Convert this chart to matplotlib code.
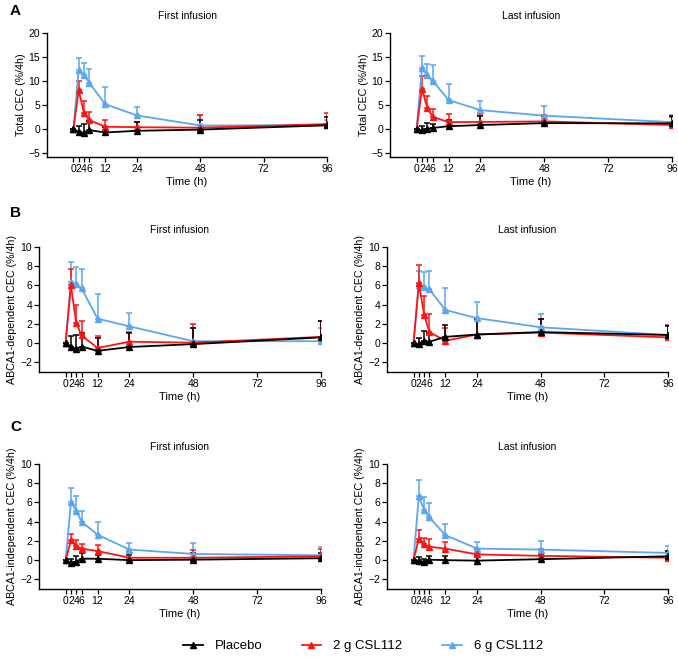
import matplotlib as mpl
mpl.use('Agg')
import matplotlib.pyplot as plt
from matplotlib.lines import Line2D
import numpy as np

plt.rcParams['font.family'] = ['Liberation Sans', 'DejaVu Sans']

hours = [0, 2, 4, 6, 12, 24, 48, 96]
xticks = [0, 2, 4, 6, 12, 24, 48, 72, 96]
groups = ['Placebo', '2 g CSL112', '6 g CSL112']
colors = {'Placebo': 'black', '2 g CSL112': '#ff1414', '6 g CSL112': '#5aa6f2'}

# mean values and upper error (mean + SD)
total_first = {
    'Placebo':    [0, -0.55, -0.8, -0.2, -0.7, -0.35, -0.1, 0.8],
    '2 g CSL112': [0, 8.05, 3.4, 1.9, 0.5, 0.4, 0.3, 1.05],
    '6 g CSL112': [0, 12.4, 11.3, 9.65, 5.2, 2.85, 0.76, 0.8],
}
total_first_up = {
    'Placebo':    [0, 0.7, 1.0, 1.65, 0.5, 1.4, 1.85, 2.55],
    '2 g CSL112': [0, 10.1, 5.9, 3.6, 2.0, 1.4, 2.85, 3.4],
    '6 g CSL112': [0, 14.9, 13.8, 12.6, 8.8, 4.65, 2.85, 2.0],
}
total_last = {
    'Placebo':    [0, -0.25, 0.05, 0.25, 0.6, 0.85, 1.25, 1.2],
    '2 g CSL112': [0, 8.35, 4.45, 2.6, 1.45, 1.5, 1.6, 0.85],
    '6 g CSL112': [0, 12.75, 11.2, 10.1, 6.05, 3.95, 2.8, 1.45],
}
total_last_up = {
    'Placebo':    [0, 0.6, 1.25, 1.05, 2.0, 2.7, 2.7, 2.7],
    '2 g CSL112': [0, 11.0, 6.95, 4.25, 3.1, 3.05, 2.85, 2.55],
    '6 g CSL112': [0, 15.3, 13.5, 13.3, 9.4, 5.9, 4.8, 2.9],
}
dep_first = {
    'Placebo':    [0, -0.4, -0.6, -0.35, -0.8, -0.4, -0.1, 0.6],
    '2 g CSL112': [0, 6.0, 2.1, 0.8, -0.5, 0.15, 0.05, 0.65],
    '6 g CSL112': [0, 6.4, 6.15, 5.7, 2.55, 1.75, 0.2, 0.2],
}
dep_first_up = {
    'Placebo':    [0, 0.75, 0.85, 1.05, 0.5, 1.1, 1.55, 2.3],
    '2 g CSL112': [0, 7.7, 4.0, 2.35, 0.75, 1.2, 1.95, 2.3],
    '6 g CSL112': [0, 8.45, 7.95, 7.75, 5.1, 3.1, 1.6, 1.6],
}
dep_last = {
    'Placebo':    [0, -0.1, 0.2, 0.15, 0.65, 0.9, 1.15, 0.85],
    '2 g CSL112': [0, 6.25, 2.95, 1.15, 0.25, 0.9, 1.1, 0.6],
    '6 g CSL112': [0, 6.0, 5.8, 5.6, 3.45, 2.6, 1.65, 0.85],
}
dep_last_up = {
    'Placebo':    [0, 0.5, 1.3, 1.1, 1.85, 2.5, 2.5, 1.8],
    '2 g CSL112': [0, 8.1, 4.95, 3.0, 1.6, 2.55, 2.5, 1.85],
    '6 g CSL112': [0, 7.55, 7.35, 7.55, 5.7, 4.3, 3.0, 1.9],
}
indep_first = {
    'Placebo':    [0, -0.3, -0.15, 0.15, 0.15, 0.0, 0.05, 0.2],
    '2 g CSL112': [0, 2.05, 1.45, 1.2, 0.95, 0.25, 0.25, 0.4],
    '6 g CSL112': [0, 6.0, 5.15, 4.0, 2.65, 1.1, 0.65, 0.5],
}
indep_first_up = {
    'Placebo':    [0, 0.15, 0.4, 0.7, 0.55, 0.55, 0.75, 0.75],
    '2 g CSL112': [0, 2.7, 2.1, 1.65, 1.55, 0.85, 1.1, 1.2],
    '6 g CSL112': [0, 7.55, 6.65, 5.15, 4.0, 1.75, 1.75, 1.4],
}
indep_last = {
    'Placebo':    [0, -0.05, -0.2, 0.05, 0.0, -0.05, 0.1, 0.4],
    '2 g CSL112': [0, 2.25, 1.65, 1.4, 1.2, 0.6, 0.45, 0.25],
    '6 g CSL112': [0, 6.65, 5.2, 4.45, 2.6, 1.2, 1.1, 0.75],
}
indep_last_up = {
    'Placebo':    [0, 0.3, 0.1, 0.4, 0.4, 0.45, 0.6, 0.95],
    '2 g CSL112': [0, 3.1, 2.3, 2.2, 1.9, 1.15, 1.15, 1.0],
    '6 g CSL112': [0, 8.35, 6.6, 5.9, 3.75, 1.9, 2.0, 1.5],
}

W, H = 678, 657
fig = plt.figure(figsize=(W / 100, H / 100), dpi=100)


def box(l, r, t, b):
    return [l / W, 1 - b / H, (r - l) / W, (b - t) / H]


panels = [
    (box(47, 327, 33, 157), total_first, total_first_up, 'First infusion', 'Total CEC (%/4h)', (-5.8, 20), [-5, 0, 5, 10, 15, 20]),
    (box(390, 672, 33, 157), total_last, total_last_up, 'Last infusion', 'Total CEC (%/4h)', (-5.8, 20), [-5, 0, 5, 10, 15, 20]),
    (box(39, 321, 247, 372), dep_first, dep_first_up, 'First infusion', 'ABCA1-dependent CEC (%/4h)', (-3, 10), [-2, 0, 2, 4, 6, 8, 10]),
    (box(387, 668, 247, 372), dep_last, dep_last_up, 'Last infusion', 'ABCA1-dependent CEC (%/4h)', (-3, 10), [-2, 0, 2, 4, 6, 8, 10]),
    (box(39, 321, 464, 589), indep_first, indep_first_up, 'First infusion', 'ABCA1-independent CEC (%/4h)', (-3, 10), [-2, 0, 2, 4, 6, 8, 10]),
    (box(387, 668, 464, 589), indep_last, indep_last_up, 'Last infusion', 'ABCA1-independent CEC (%/4h)', (-3, 10), [-2, 0, 2, 4, 6, 8, 10]),
]

for pos, mean, up, title, ylab, ylim, yt in panels:
    ax = fig.add_axes(pos)
    for g in ['6 g CSL112', '2 g CSL112', 'Placebo']:
        m = np.array(mean[g])
        u = np.array(up[g]) - m
        u[u < 0] = 0
        ax.errorbar(hours, m, yerr=[np.zeros_like(m), u], color=colors[g], lw=1.3,
                    marker='^', ms=4.5, capsize=2.5, elinewidth=1.1, capthick=1.1)
    ax.set_xlim(-10, 96)
    ax.set_ylim(*ylim)
    ax.set_xticks(xticks)
    ax.set_xticklabels([str(x) for x in xticks])
    ax.set_yticks(yt)
    ax.tick_params(labelsize=7.5, length=3.5, width=0.9, pad=1.5)
    for s in ['top', 'right']:
        ax.spines[s].set_visible(False)
    for s in ['left', 'bottom']:
        ax.spines[s].set_linewidth(1.0)
    ax.set_title(title, fontsize=7.5, pad=10)
    ax.set_xlabel('Time (h)', fontsize=8, labelpad=2)
    ax.set_ylabel(ylab, fontsize=7.7, labelpad=2)

fig.text(10 / W, 1 - 11 / H, 'A', fontsize=11, fontweight='bold', va='center')
fig.text(10 / W, 1 - 213 / H, 'B', fontsize=11, fontweight='bold', va='center')
fig.text(10 / W, 1 - 427 / H, 'C', fontsize=11, fontweight='bold', va='center')

leg_handles = [Line2D([], [], color=colors[g], lw=1.3, marker='^', ms=4.5) for g in groups]
fig.legend(leg_handles, groups, loc='center', bbox_to_anchor=(0.535, 1 - 646 / H), ncol=3,
           frameon=False, fontsize=9.5, handlelength=1.5, columnspacing=3.0, handletextpad=0.9)

plt.savefig('out.png', dpi=100)
plt.close()
